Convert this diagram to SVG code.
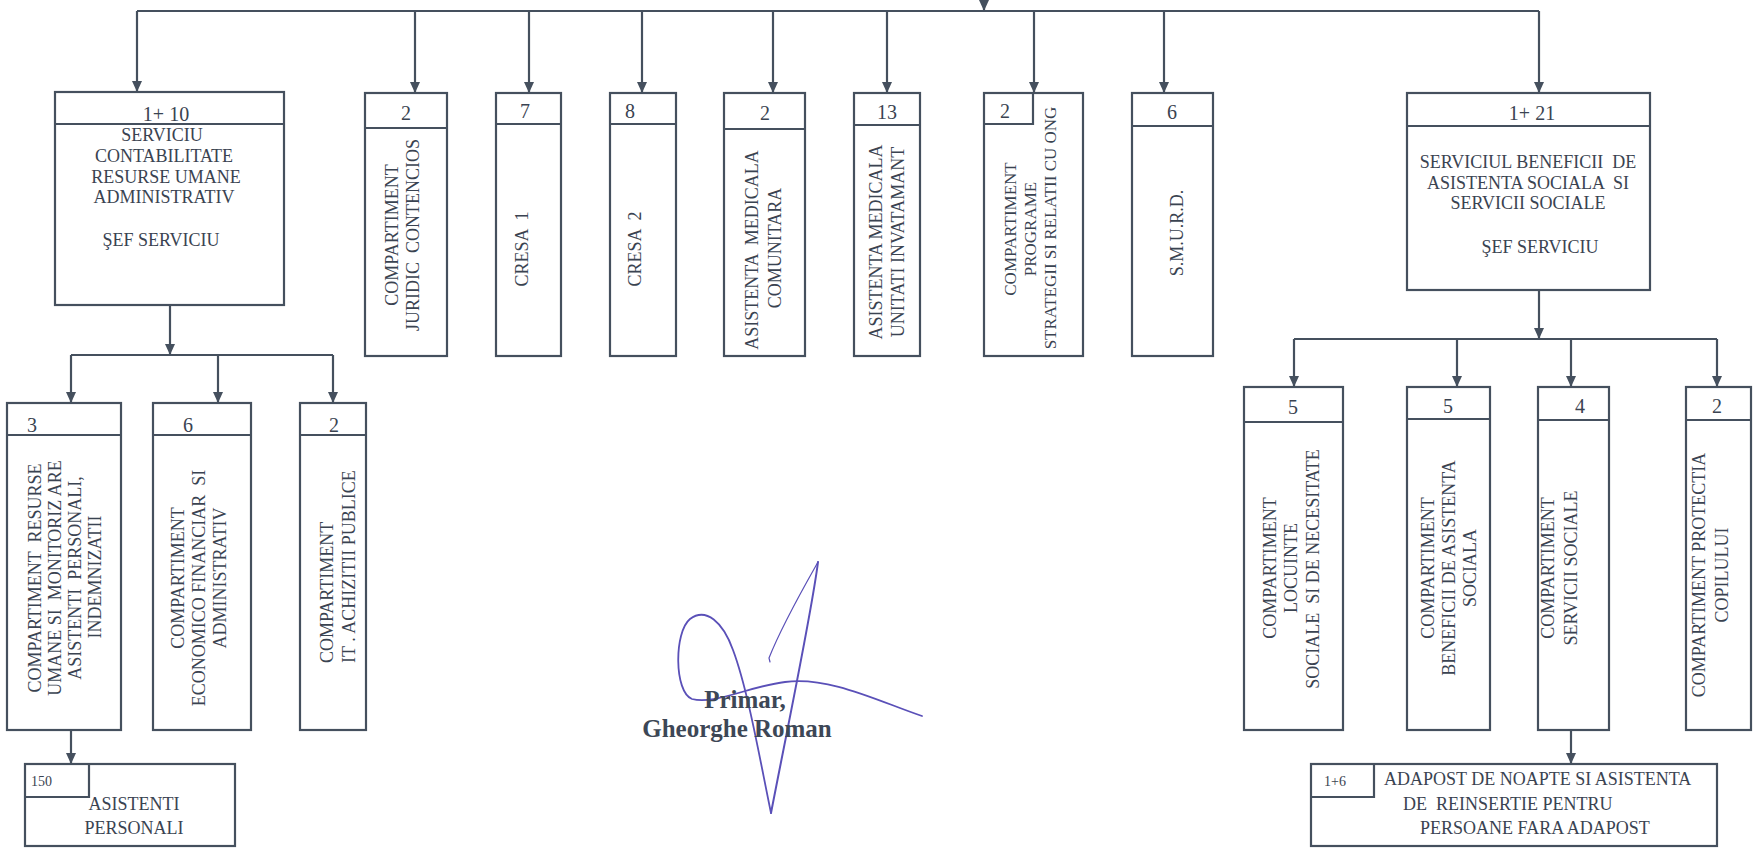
<svg xmlns="http://www.w3.org/2000/svg" width="1753" height="851" viewBox="0 0 1753 851">
<style>
  .bx { fill: none; stroke: #45505e; stroke-width: 2.2; }
  .ln { fill: none; stroke: #45505e; stroke-width: 2.2; }
  .ar { fill: none; stroke: #45505e; stroke-width: 2.2; marker-end: url(#ah); }
  text { font-family: "Liberation Serif", "Times New Roman", serif; fill: #3a4351; white-space: pre; }
  .t { font-size: 18px; text-anchor: middle; }
  .ts { font-size: 18px; text-anchor: start; }
  .h { font-size: 20px; text-anchor: middle; }
  .sm { font-size: 14px; text-anchor: start; }
  .sig { fill: none; stroke: #5a50b8; stroke-linecap: round; }
  .nm { font-size: 25px; font-weight: bold; text-anchor: middle; fill: #3d4756; }
</style>
<defs>
  <marker id="ah" viewBox="0 0 11 10" refX="11" refY="5" markerWidth="11" markerHeight="10" orient="auto" markerUnits="userSpaceOnUse">
    <path d="M0,0 L11,5 L0,10 z" fill="#45505e"/>
  </marker>
</defs>
<rect width="1753" height="851" fill="#ffffff"/>

<g id="connectors">
  <path class="ar" d="M984,-4 V11"/>
  <path class="ln" d="M137,11 H1539"/>
  <path class="ar" d="M137,11 V92"/>
  <path class="ar" d="M415,11 V93"/>
  <path class="ar" d="M529,11 V93"/>
  <path class="ar" d="M642,11 V93"/>
  <path class="ar" d="M773,11 V93"/>
  <path class="ar" d="M887,11 V93"/>
  <path class="ar" d="M1034,11 V93"/>
  <path class="ar" d="M1164,11 V93"/>
  <path class="ar" d="M1539,11 V93"/>
  <path class="ar" d="M170,305 V355"/>
  <path class="ln" d="M71,355 H333"/>
  <path class="ar" d="M71,355 V403"/>
  <path class="ar" d="M218,355 V403"/>
  <path class="ar" d="M333,355 V403"/>
  <path class="ar" d="M71,730 V764"/>
  <path class="ar" d="M1539,290 V339"/>
  <path class="ln" d="M1294,339 H1717"/>
  <path class="ar" d="M1294,339 V387"/>
  <path class="ar" d="M1457,339 V387"/>
  <path class="ar" d="M1571,339 V387"/>
  <path class="ar" d="M1717,339 V387"/>
  <path class="ar" d="M1571,730 V764"/>
</g>

<g id="node-serviciu-contabilitate">
  <rect class="bx" x="55" y="92" width="229" height="213"/>
  <line class="ln" x1="55" y1="124" x2="284" y2="124"/>
  <text class="h" x="166" y="121">1+ 10</text>
  <text class="t" x="162" y="141">SERVICIU</text>
  <text class="t" x="164" y="162">CONTABILITATE</text>
  <text class="t" x="166" y="183">RESURSE UMANE</text>
  <text class="t" x="164" y="203">ADMINISTRATIV</text>
  <text class="t" x="161" y="246">ŞEF SERVICIU</text>
</g>

<g id="node-juridic">
  <rect class="bx" x="365" y="93" width="82" height="263"/>
  <line class="ln" x1="365" y1="128" x2="447" y2="128"/>
  <text class="h" x="406" y="120">2</text>
  <text class="t" transform="translate(398,235) rotate(-90)">COMPARTIMENT</text>
  <text class="t" transform="translate(419,235) rotate(-90)">JURIDIC  CONTENCIOS</text>
</g>

<g id="node-cresa1">
  <rect class="bx" x="496" y="93" width="65" height="263"/>
  <line class="ln" x1="496" y1="124" x2="561" y2="124"/>
  <text class="h" x="525" y="118">7</text>
  <text class="t" transform="translate(528,249) rotate(-90)">CRESA  1</text>
</g>

<g id="node-cresa2">
  <rect class="bx" x="610" y="93" width="66" height="263"/>
  <line class="ln" x1="610" y1="124" x2="676" y2="124"/>
  <text class="h" x="630" y="118">8</text>
  <text class="t" transform="translate(641,249) rotate(-90)">CRESA  2</text>
</g>

<g id="node-asistenta-comunitara">
  <rect class="bx" x="724" y="93" width="81" height="263"/>
  <line class="ln" x1="724" y1="129" x2="805" y2="129"/>
  <text class="h" x="765" y="120">2</text>
  <text class="t" transform="translate(758,250) rotate(-90)">ASISTENTA  MEDICALA</text>
  <text class="t" transform="translate(781,248) rotate(-90)">COMUNITARA</text>
</g>

<g id="node-asistenta-invatamant">
  <rect class="bx" x="854" y="93" width="66" height="263"/>
  <line class="ln" x1="854" y1="125" x2="920" y2="125"/>
  <text class="h" x="887" y="119">13</text>
  <text class="t" transform="translate(882,242) rotate(-90)">ASISTENTA MEDICALA</text>
  <text class="t" transform="translate(904,242) rotate(-90)">UNITATI INVATAMANT</text>
</g>

<g id="node-programe">
  <rect class="bx" x="984" y="93" width="99" height="263"/>
  <path class="ln" d="M984,124 H1033 V93"/>
  <text class="h" x="1005" y="118">2</text>
  <text class="t" style="font-size:17px" transform="translate(1016,229) rotate(-90)">COMPARTIMENT</text>
  <text class="t" style="font-size:17px" transform="translate(1036,229) rotate(-90)">PROGRAME</text>
  <text class="t" style="font-size:17px" transform="translate(1056,228) rotate(-90)">STRATEGII SI RELATII CU ONG</text>
</g>

<g id="node-smurd">
  <rect class="bx" x="1132" y="93" width="81" height="263"/>
  <line class="ln" x1="1132" y1="126" x2="1213" y2="126"/>
  <text class="h" x="1172" y="119">6</text>
  <text class="t" transform="translate(1183,233) rotate(-90)">S.M.U.R.D.</text>
</g>

<g id="node-serviciul-beneficii">
  <rect class="bx" x="1407" y="93" width="243" height="197"/>
  <line class="ln" x1="1407" y1="126" x2="1650" y2="126"/>
  <text class="h" x="1532" y="120">1+ 21</text>
  <text class="t" x="1528" y="168">SERVICIUL BENEFICII  DE</text>
  <text class="t" x="1528" y="189">ASISTENTA SOCIALA  SI</text>
  <text class="t" x="1528" y="209">SERVICII SOCIALE</text>
  <text class="t" x="1540" y="253">ŞEF SERVICIU</text>
</g>

<g id="node-resurse-umane">
  <rect class="bx" x="7" y="403" width="114" height="327"/>
  <line class="ln" x1="7" y1="435" x2="121" y2="435"/>
  <text class="h" x="32" y="432">3</text>
  <text class="t" transform="translate(41,578) rotate(-90)">COMPARTIMENT  RESURSE</text>
  <text class="t" transform="translate(61,578) rotate(-90)">UMANE SI  MONITORIZ ARE</text>
  <text class="t" transform="translate(81,578) rotate(-90)">ASISTENTI  PERSONALI,</text>
  <text class="t" transform="translate(101,577) rotate(-90)">INDEMNIZATII</text>
</g>

<g id="node-economico">
  <rect class="bx" x="153" y="403" width="98" height="327"/>
  <line class="ln" x1="153" y1="435" x2="251" y2="435"/>
  <text class="h" x="188" y="432">6</text>
  <text class="t" transform="translate(184,578) rotate(-90)">COMPARTIMENT</text>
  <text class="t" transform="translate(205,588) rotate(-90)">ECONOMICO FINANCIAR  SI</text>
  <text class="t" transform="translate(226,578) rotate(-90)">ADMINISTRATIV</text>
</g>

<g id="node-achizitii">
  <rect class="bx" x="300" y="403" width="66" height="327"/>
  <line class="ln" x1="300" y1="435" x2="366" y2="435"/>
  <text class="h" x="334" y="432">2</text>
  <text class="ts" transform="translate(333,663) rotate(-90)">COMPARTIMENT</text>
  <text class="ts" transform="translate(355,663) rotate(-90)">IT . ACHIZITII PUBLICE</text>
</g>

<g id="node-asistenti-personali">
  <rect class="bx" x="25" y="764" width="210" height="82"/>
  <path class="ln" d="M25,797 H89 V764"/>
  <text class="sm" x="31" y="786">150</text>
  <text class="t" x="134" y="810">ASISTENTI</text>
  <text class="t" x="134" y="834">PERSONALI</text>
</g>

<g id="node-locuinte">
  <rect class="bx" x="1244" y="387" width="99" height="343"/>
  <line class="ln" x1="1244" y1="422" x2="1343" y2="422"/>
  <text class="h" x="1293" y="414">5</text>
  <text class="t" transform="translate(1276,568) rotate(-90)">COMPARTIMENT</text>
  <text class="t" transform="translate(1297,568) rotate(-90)">LOCUINTE</text>
  <text class="t" transform="translate(1319,569) rotate(-90)">SOCIALE  SI DE NECESITATE</text>
</g>

<g id="node-beneficii">
  <rect class="bx" x="1407" y="387" width="83" height="343"/>
  <line class="ln" x1="1407" y1="419" x2="1490" y2="419"/>
  <text class="h" x="1448" y="413">5</text>
  <text class="t" transform="translate(1434,568) rotate(-90)">COMPARTIMENT</text>
  <text class="t" transform="translate(1455,568) rotate(-90)">BENEFICII DE ASISTENTA</text>
  <text class="t" transform="translate(1476,568) rotate(-90)">SOCIALA</text>
</g>

<g id="node-servicii-sociale">
  <rect class="bx" x="1538" y="387" width="71" height="343"/>
  <line class="ln" x1="1538" y1="420" x2="1609" y2="420"/>
  <text class="h" x="1580" y="413">4</text>
  <text class="t" transform="translate(1554,568) rotate(-90)">COMPARTIMENT</text>
  <text class="t" transform="translate(1577,568) rotate(-90)">SERVICII SOCIALE</text>
</g>

<g id="node-protectia">
  <rect class="bx" x="1686" y="387" width="65" height="343"/>
  <line class="ln" x1="1686" y1="420" x2="1751" y2="420"/>
  <text class="h" x="1717" y="413">2</text>
  <text class="t" transform="translate(1705,575) rotate(-90)">COMPARTIMENT PROTECTIA</text>
  <text class="t" transform="translate(1728,575) rotate(-90)">COPILULUI</text>
</g>

<g id="node-adapost">
  <rect class="bx" x="1311" y="764" width="406" height="82"/>
  <path class="ln" d="M1311,797 H1374 V764"/>
  <text class="sm" x="1324" y="786">1+6</text>
  <text class="ts" x="1384" y="785">ADAPOST DE NOAPTE SI ASISTENTA</text>
  <text class="ts" x="1403" y="810">DE  REINSERTIE PENTRU</text>
  <text class="ts" x="1420" y="834">PERSOANE FARA ADAPOST</text>
</g>

<g id="signature">
  <path class="sig" stroke-width="2" d="M818,562 C812,610 795,690 771,813"/>
  <path class="sig" stroke-width="1.2" d="M818,562 C805,585 782,625 769,658 L770,662"/>
  <path class="sig" stroke-width="1.8" d="M922,716 C880,702 830,676 785,682 C750,686 715,705 692,699 C674,692 674,632 690,619 C706,607 723,622 733,650 C748,690 760,760 771,813"/>
  <text class="nm" x="745" y="708">Primar,</text>
  <text class="nm" x="737" y="737">Gheorghe Roman</text>
</g>
</svg>
